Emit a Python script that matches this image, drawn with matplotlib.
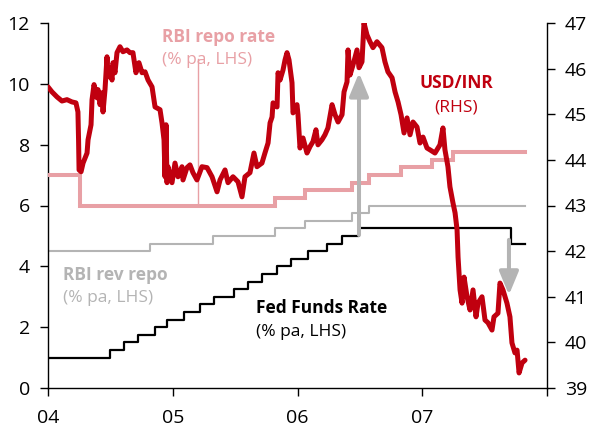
import matplotlib
matplotlib.use("Agg")
import matplotlib.pyplot as plt
import numpy as np

# ---------------- data ----------------
# step series: (decimal year, % pa)
repo_years = [2004.0, 2004.256, 2005.82, 2006.06, 2006.44, 2006.57, 2006.83, 2007.08, 2007.25, 2007.824]
repo_rate = [7.0, 6.0, 6.25, 6.5, 6.75, 7.0, 7.25, 7.5, 7.75, 7.75]

rev_years = [2004.0, 2004.818, 2005.323, 2005.82, 2006.06, 2006.44, 2006.57, 2007.824]
rev_rate = [4.5, 4.75, 5.0, 5.25, 5.5, 5.75, 6.0, 6.0]

fed_years = [2004.0, 2004.496, 2004.609, 2004.722, 2004.859, 2004.953, 2005.088, 2005.219,
             2005.334, 2005.493, 2005.605, 2005.718, 2005.833, 2005.948, 2006.082, 2006.236,
             2006.356, 2006.493, 2007.713, 2007.824]
fed_rate = [1.0, 1.25, 1.5, 1.75, 2.0, 2.25, 2.5, 2.75, 3.0, 3.25, 3.5, 3.75, 4.0, 4.25,
            4.5, 4.75, 5.0, 5.25, 4.75, 4.75]

# USD/INR (RHS): years after 2004.0, rupees per dollar
inr_t = [0.000, 0.032, 0.072, 0.112, 0.152, 0.192, 0.224, 0.240, 0.245, 0.249, 0.265, 0.281,
         0.313, 0.321, 0.345, 0.353, 0.369, 0.393, 0.401, 0.417, 0.433, 0.441, 0.457, 0.473,
         0.481, 0.497, 0.513, 0.521, 0.537, 0.553, 0.577, 0.601, 0.633, 0.657, 0.681, 0.705,
         0.729, 0.754, 0.778, 0.802, 0.834, 0.858, 0.898, 0.914, 0.930, 0.938, 0.946, 0.954,
         0.962, 0.994, 1.018, 1.042, 1.074, 1.082, 1.114, 1.138, 1.162, 1.194, 1.234, 1.275,
         1.315, 1.355, 1.379, 1.419, 1.443, 1.483, 1.523, 1.555, 1.579, 1.619, 1.651, 1.675,
         1.715, 1.739, 1.764, 1.780, 1.796, 1.804, 1.836, 1.844, 1.860, 1.884, 1.900, 1.916,
         1.932, 1.956, 1.964, 1.996, 2.004, 2.020, 2.044, 2.076, 2.100, 2.124, 2.148, 2.164,
         2.196, 2.220, 2.244, 2.277, 2.301, 2.325, 2.357, 2.373, 2.397, 2.405, 2.421, 2.445,
         2.477, 2.493, 2.517, 2.533, 2.557, 2.581, 2.605, 2.637, 2.677, 2.701, 2.725, 2.758,
         2.782, 2.806, 2.830, 2.854, 2.878, 2.902, 2.926, 2.958, 2.982, 3.006, 3.038, 3.062,
         3.102, 3.142, 3.166, 3.182, 3.206, 3.222, 3.246, 3.263, 3.279, 3.287, 3.303, 3.319,
         3.335, 3.359, 3.383, 3.407, 3.431, 3.447, 3.479, 3.503, 3.527, 3.559, 3.575, 3.607,
         3.623, 3.647, 3.679, 3.703, 3.719, 3.743, 3.760, 3.776, 3.800, 3.824]
inr_v = [45.60, 45.49, 45.38, 45.29, 45.32, 45.27, 45.25, 45.05, 44.44, 43.78, 43.74, 43.93,
         44.15, 44.44, 44.77, 45.32, 45.65, 45.36, 45.54, 45.21, 45.47, 45.05, 45.54, 46.26,
         45.82, 46.02, 45.75, 46.13, 45.91, 46.35, 46.48, 46.37, 46.41, 46.35, 46.35, 45.91,
         46.13, 45.91, 45.93, 45.75, 45.60, 45.16, 45.10, 44.81, 44.44, 43.63, 44.77, 43.50,
         43.85, 43.50, 43.93, 43.63, 43.85, 43.56, 43.83, 43.89, 43.72, 43.56, 43.85, 43.83,
         43.63, 43.30, 43.56, 43.78, 43.50, 43.63, 43.52, 43.19, 43.63, 43.72, 44.15, 43.85,
         43.93, 44.15, 44.37, 44.81, 44.94, 45.25, 45.16, 45.91, 45.75, 45.97, 46.19, 46.35,
         46.19, 45.69, 45.03, 45.21, 44.99, 44.26, 44.48, 44.15, 44.29, 44.40, 44.66, 44.33,
         44.44, 44.55, 44.70, 45.21, 44.99, 44.83, 44.99, 45.49, 45.71, 46.41, 45.86, 46.08,
         46.41, 46.02, 46.15, 47.00, 46.74, 46.59, 46.46, 46.59, 46.46, 46.15, 45.93, 45.80,
         45.49, 45.27, 44.99, 44.59, 44.92, 44.55, 44.83, 44.72, 44.37, 44.50, 44.26, 44.22,
         44.15, 44.33, 44.70, 44.22, 43.85, 43.41, 43.06, 42.84, 42.47, 41.87, 41.15, 40.86,
         41.43, 41.00, 40.71, 41.15, 40.56, 40.86, 41.00, 40.49, 40.43, 40.27, 40.56, 40.64,
         41.30, 41.15, 40.86, 40.56, 39.99, 39.77, 39.83, 39.33, 39.55, 39.61]

year_ticks = [2004, 2005, 2006, 2007, 2008]
year_labels = ["04", "05", "06", "07", ""]
left_ticks = [0, 2, 4, 6, 8, 10, 12]
right_ticks = [39, 40, 41, 42, 43, 44, 45, 46, 47]

# ---------------- style ----------------
PINK = "#E8A0A5"
GRAY = "#B4B4B4"
RED = "#C0000F"
FONT = ["Open Sans", "DejaVu Sans"]
plt.rcParams["font.family"] = FONT

fig = plt.figure(figsize=(5.9, 4.26), dpi=100)
ax = fig.add_axes([48/590, 38/426, (547-48)/590, (388-23)/426])
ax2 = ax.twinx()

ax.plot(repo_years, repo_rate, drawstyle="steps-post", color=PINK, lw=2.9, solid_joinstyle="miter", zorder=3)
ax.plot(rev_years, rev_rate, drawstyle="steps-post", color=GRAY, lw=1.5, zorder=2)
ax.plot(fed_years, fed_rate, drawstyle="steps-post", color="black", lw=1.6, zorder=2)

inr_x = [2004.0 + t for t in inr_t]
ax2.plot(inr_x, inr_v, color=RED, lw=3.6, solid_joinstyle="round", solid_capstyle="round", zorder=3)

# thin leader line for repo label
ax.plot([2005.202, 2005.202], [6.0, 10.82], color=PINK, lw=1.0, zorder=2)

ax.set_xlim(2004, 2008)
ax.set_ylim(0, 12)
ax2.set_ylim(39, 47)
ax.set_xticks(year_ticks)
ax.set_xticklabels(year_labels)
ax.set_yticks(left_ticks)
ax2.set_yticks(right_ticks)

for a in (ax, ax2):
    a.spines["top"].set_visible(False)
    for s in a.spines.values():
        s.set_linewidth(1.0)
ax.spines["right"].set_visible(False)
ax2.spines["left"].set_visible(False)
ax2.spines["bottom"].set_visible(False)

ax.tick_params(axis="y", direction="out", length=6, width=1, pad=7, labelsize=14)
ax.tick_params(axis="x", direction="out", length=6, width=1, pad=9, labelsize=14)
ax2.tick_params(axis="y", direction="out", length=6, width=1, pad=7, labelsize=14)

# arrows (drawn in LHS data coords, on top of everything)
arrow_kw = dict(arrowstyle="-|>,head_length=14,head_width=5.8", color=GRAY, lw=2.9,
                shrinkA=0, shrinkB=0, mutation_scale=1)
ax2.annotate("", xy=(2006.493, 10.36), xytext=(2006.493, 5.03), xycoords=ax.transData,
             textcoords=ax.transData, arrowprops=arrow_kw, zorder=5)
ax2.annotate("", xy=(2007.695, 3.06), xytext=(2007.695, 4.87), xycoords=ax.transData,
             textcoords=ax.transData, arrowprops=arrow_kw, zorder=5)

# labels
fs = 12.5
ax.text(2004.915, 11.55, "RBI repo rate", color=PINK, fontsize=fs, fontweight="bold", ha="left", va="center")
ax.text(2004.915, 10.8, "(% pa, LHS)", color=PINK, fontsize=fs, ha="left", va="center")
ax.text(2007.275, 10.04, "USD/INR", color=RED, fontsize=fs, fontweight="bold", ha="center", va="center")
ax.text(2007.275, 9.22, "(RHS)", color=RED, fontsize=fs, ha="center", va="center")
ax.text(2004.12, 3.72, "RBI rev repo", color=GRAY, fontsize=fs, fontweight="bold", ha="left", va="center")
ax.text(2004.12, 2.96, "(% pa, LHS)", color=GRAY, fontsize=fs, ha="left", va="center")
ax.text(2005.67, 2.63, "Fed Funds Rate", color="black", fontsize=fs, fontweight="bold", ha="left", va="center")
ax.text(2005.67, 1.84, "(% pa, LHS)", color="black", fontsize=fs, ha="left", va="center")

fig.savefig("out.png", dpi=100)
